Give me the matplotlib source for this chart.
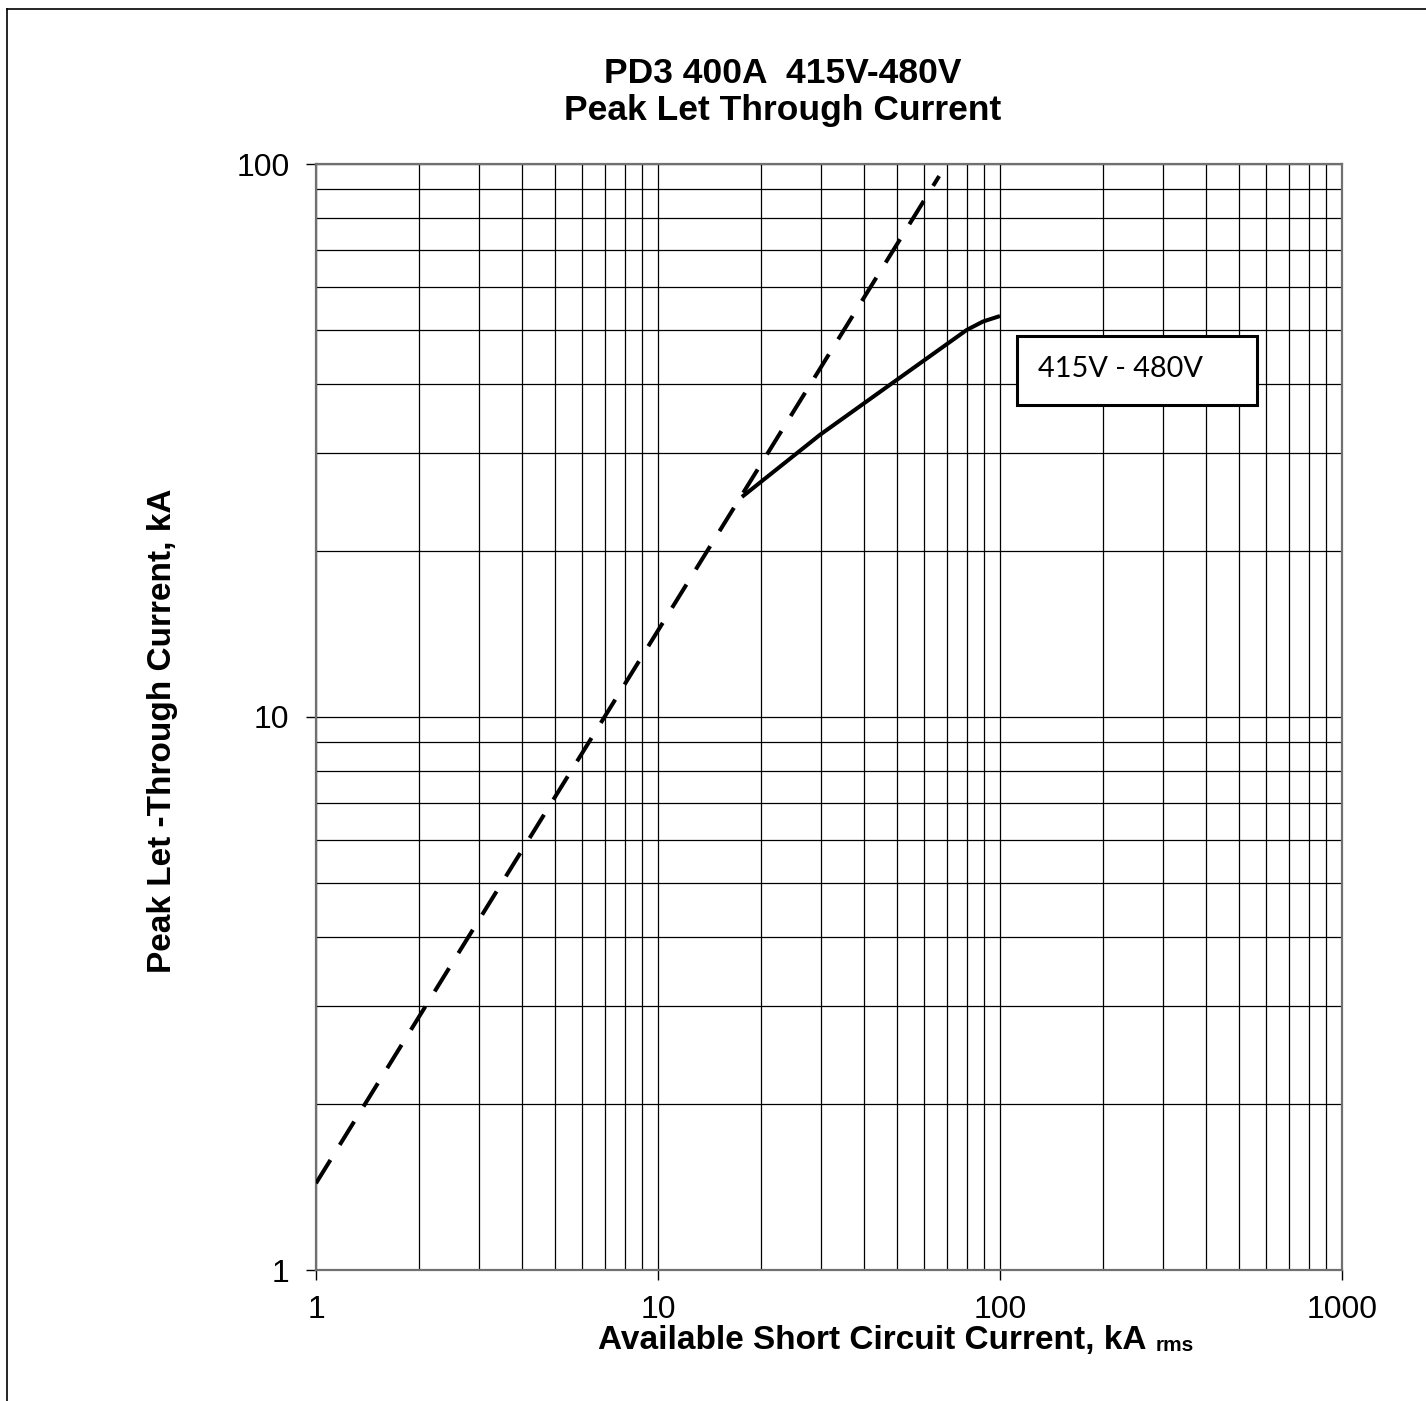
import matplotlib
matplotlib.use("Agg")
import matplotlib.pyplot as plt
from matplotlib.ticker import FixedLocator, FuncFormatter, LogLocator, NullFormatter
from matplotlib.patches import Rectangle
from matplotlib.lines import Line2D

# ---- data ----
title_text = "PD3 400A  415V-480V\nPeak Let Through Current"
xlabel_text = "Available Short Circuit Current, kA"
xlabel_sub = "rms"
ylabel_text = "Peak Let -Through Current, kA"
series_label = "415V - 480V"

# dashed line: unlimited peak current (asymmetrical)
dashed_x = [1.0, 66.4]
dashed_y = [1.435, 95.1]

# solid curve: 415V - 480V let-through
solid_x = [17.6, 29.8, 49.9, 79.9, 89.2, 100.0]
solid_y = [25.0, 32.4, 40.7, 50.1, 51.9, 53.1]

x_ticks = [1, 10, 100, 1000]
y_ticks = [1, 10, 100]

W, H = 1426, 1401
plt.rcParams['font.family'] = ['Liberation Sans', 'DejaVu Sans']

fig = plt.figure(figsize=(W / 100, H / 100), dpi=100)

def fx(px):
    return px / W

def fy(py):
    return 1 - py / H

left, right, top, bottom = 316, 1342, 164, 1270
ax = fig.add_axes([fx(left), fy(bottom), (right - left) / W, (bottom - top) / H])
ax.set_xscale('log')
ax.set_yscale('log')
ax.set_xlim(1, 1000)
ax.set_ylim(1, 100)

ax.plot(dashed_x, dashed_y, color='black', lw=2.9, linestyle=(0, (6.8, 4.4)),
        dash_capstyle='butt', zorder=3)
ax.plot(solid_x, solid_y, color='black', lw=2.9, solid_capstyle='butt', zorder=3)

ax.xaxis.set_major_locator(FixedLocator(x_ticks))
ax.yaxis.set_major_locator(FixedLocator(y_ticks))
ax.xaxis.set_minor_locator(LogLocator(base=10, subs=range(2, 10)))
ax.yaxis.set_minor_locator(LogLocator(base=10, subs=range(2, 10)))
fmt = FuncFormatter(lambda v, p: f"{v:g}")
ax.xaxis.set_major_formatter(fmt)
ax.yaxis.set_major_formatter(fmt)
ax.xaxis.set_minor_formatter(NullFormatter())
ax.yaxis.set_minor_formatter(NullFormatter())

ax.grid(True, which='both', color='black', lw=0.9)
ax.set_axisbelow(True)
ax.tick_params(which='major', direction='out', length=7, width=1, color='black',
               labelsize=23)
ax.tick_params(axis='x', which='major', pad=11)
ax.tick_params(axis='y', which='major', pad=12)
ax.tick_params(which='minor', length=0)
for s in ax.spines.values():
    s.set_color('#707070')
    s.set_linewidth(1.6)

# title
fig.text(fx(783), fy(92), title_text, ha='center', va='center', fontsize=25.5,
         fontweight='bold', linespacing=1.12)

# axis labels
fig.text(fx(163), fy(731), ylabel_text, rotation=90, ha='center', va='center',
         fontsize=24, fontweight='bold')
xl = fig.text(fx(598), fy(1340), xlabel_text, ha='left', va='center', fontsize=24,
              fontweight='bold')
fig.canvas.draw()
bb = xl.get_window_extent()
fig.text((bb.x1 + 9) / W, bb.y0 / H + 0.0035, xlabel_sub, ha='left', va='baseline',
         fontsize=15, fontweight='bold')

# series label box
fig.add_artist(Rectangle((fx(1017), fy(405)), (1257 - 1017) / W, (405 - 336) / H,
                         transform=fig.transFigure, facecolor='white',
                         edgecolor='black', lw=2.2, zorder=5))
fig.text(fx(1038), fy(369), series_label, ha='left', va='center', fontsize=20.8,
         family=['Lato', 'DejaVu Sans'], zorder=6)

# outer frame lines (top and left)
fig.add_artist(Line2D([fx(7), 1], [fy(9), fy(9)], transform=fig.transFigure,
                      color='black', lw=1.2))
fig.add_artist(Line2D([fx(7), fx(7)], [0, fy(9)], transform=fig.transFigure,
                      color='black', lw=1.2))

fig.savefig('out.png', dpi=100)
